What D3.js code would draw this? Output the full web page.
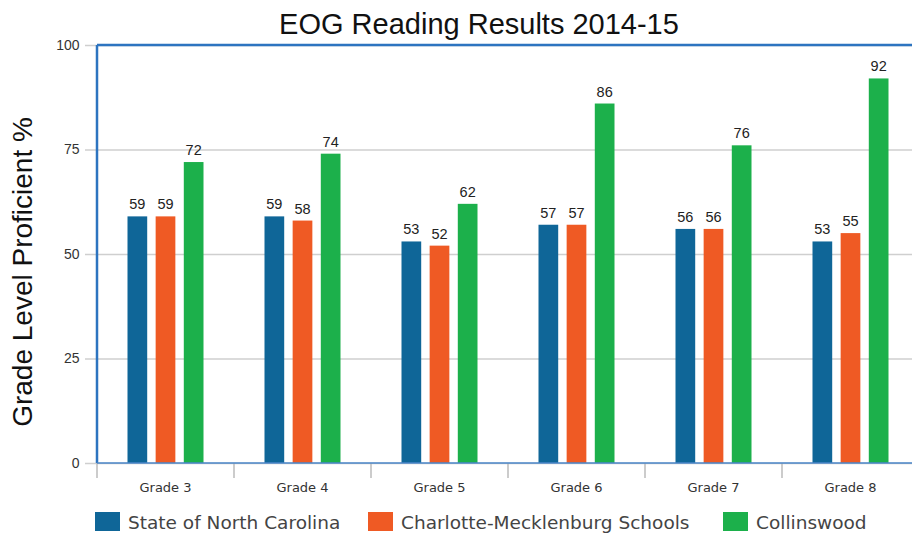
<!DOCTYPE html>
<html>
<head>
<meta charset="utf-8">
<script src="https://cdn.jsdelivr.net/npm/d3@7"></script>
<style>
  body { margin: 0; background: #fff; }
  svg { display: block; }
  .grid line { stroke: #cfcfcf; stroke-width: 1.5; }
  .tick text { font-family: 'Liberation Sans', Arial, sans-serif; fill: #333; }
</style>
</head>
<body>
<div id="chart"></div>
<script>
// chart data
var grades = ['Grade 3', 'Grade 4', 'Grade 5', 'Grade 6', 'Grade 7', 'Grade 8'];
var seriesNames = ['State of North Carolina', 'Charlotte-Mecklenburg Schools', 'Collinswood'];
var stateValues = [59, 59, 53, 57, 56, 53];
var cmsValues = [59, 58, 52, 57, 56, 55];
var collinswoodValues = [72, 74, 62, 86, 76, 92];
var yTicks = [0, 25, 50, 75, 100];
var colors = ['#0f6698', '#ef5a24', '#1cb04b'];

var allValues = [stateValues, cmsValues, collinswoodValues];

function drawChart (id) {
  var width = 912;
  var height = 534;
  var left = 97;
  var top = 45;
  var bottom = 463;

  var svg = d3.select('#' + id)
    .append('svg')
    .attr('width', width)
    .attr('height', height);

  var yScale = d3.scaleLinear()
    .domain([0, 100])
    .range([bottom, top]);

  var xScale = d3.scaleBand()
    .domain(grades)
    .range([left, left + 6 * 137])
    .paddingInner(0)
    .paddingOuter(0);

  // offsets of the 3 bars inside a group
  var inner = d3.scaleBand()
    .domain(seriesNames)
    .range([-38, 38])
    .paddingInner(0.3);

  // title
  svg.append('text')
    .attr('x', 479)
    .attr('y', 34)
    .attr('text-anchor', 'middle')
    .style('font-family', "'Liberation Sans', Arial, sans-serif")
    .style('font-size', '29px')
    .style('fill', '#111')
    .text('EOG Reading Results 2014-15');

  // y axis label
  svg.append('text')
    .attr('transform', 'translate(32,272) rotate(-90)')
    .attr('text-anchor', 'middle')
    .style('font-family', "'Liberation Sans', Arial, sans-serif")
    .style('font-size', '28px')
    .style('fill', '#111')
    .text('Grade Level Proficient %');

  // grid lines
  var yAxis = d3.axisLeft(yScale)
    .tickValues(yTicks)
    .tickSize(-(width - 85))
    .tickPadding(4);
  var gy = svg.append('g')
    .attr('class', 'grid')
    .attr('transform', 'translate(85,0)')
    .call(yAxis);
  gy.select('.domain').remove();
  gy.selectAll('.tick text')
    .style('font-size', '14px')
    .attr('dx', '-0.1em');

  // x axis
  var xAxis = d3.axisBottom(xScale)
    .tickSize(0)
    .tickPadding(20);
  var gx = svg.append('g')
    .attr('transform', 'translate(0,' + bottom + ')')
    .call(xAxis);
  gx.select('.domain').remove();
  gx.selectAll('.tick text')
    .style('font-family', "'DejaVu Sans', Verdana, sans-serif")
    .style('font-size', '13px');

  // tick separators between groups
  svg.append('g')
    .selectAll('line')
    .data(grades)
    .enter().append('line')
    .attr('x1', function (d) { return xScale(d); })
    .attr('x2', function (d) { return xScale(d); })
    .attr('y1', bottom)
    .attr('y2', bottom + 15)
    .style('stroke', '#bbb')
    .style('stroke-width', 1.5);

  // bars
  allValues.forEach(function (vals, s) {
    var name = seriesNames[s];
    var g = svg.append('g');
    g.selectAll('rect')
      .data(vals)
      .enter().append('rect')
      .attr('x', function (d, i) { return xScale(grades[i]) + xScale.bandwidth() / 2 + inner(name); })
      .attr('y', function (d) { return yScale(d); })
      .attr('width', inner.bandwidth())
      .attr('height', function (d) { return bottom - yScale(d); })
      .style('fill', colors[s]);
    g.selectAll('text')
      .data(vals)
      .enter().append('text')
      .attr('x', function (d, i) { return xScale(grades[i]) + xScale.bandwidth() / 2 + inner(name) + inner.bandwidth() / 2; })
      .attr('y', function (d) { return yScale(d) - 7; })
      .attr('text-anchor', 'middle')
      .style('font-family', "'Liberation Sans', Arial, sans-serif")
      .style('font-size', '14.5px')
      .style('fill', '#222')
      .text(function (d) { return d; });
  });

  // frame: left and top in blue, bottom axis line
  svg.append('line')
    .attr('x1', left).attr('x2', left)
    .attr('y1', top).attr('y2', bottom)
    .style('stroke', '#2d74c0').style('stroke-width', 2.5);
  svg.append('line')
    .attr('x1', left).attr('x2', width)
    .attr('y1', top).attr('y2', top)
    .style('stroke', '#2d74c0').style('stroke-width', 2.5);
  svg.append('line')
    .attr('x1', left).attr('x2', width)
    .attr('y1', bottom).attr('y2', bottom)
    .style('stroke', '#4a86c8').style('stroke-width', 1.5);

  // legend
  var legendX = [95, 368, 723];
  var legend = svg.append('g');
  seriesNames.forEach(function (name, i) {
    legend.append('rect')
      .attr('x', legendX[i])
      .attr('y', 512)
      .attr('width', 25)
      .attr('height', 19)
      .style('fill', colors[i]);
    legend.append('text')
      .attr('x', legendX[i] + 33)
      .attr('y', 529)
      .style('font-family', "'DejaVu Sans', Verdana, sans-serif")
      .style('font-size', '18.5px')
      .style('fill', '#444')
      .text(name);
  });
}

window.addEventListener('load', function () {
  drawChart('chart');
});
</script>
</body>
</html>
